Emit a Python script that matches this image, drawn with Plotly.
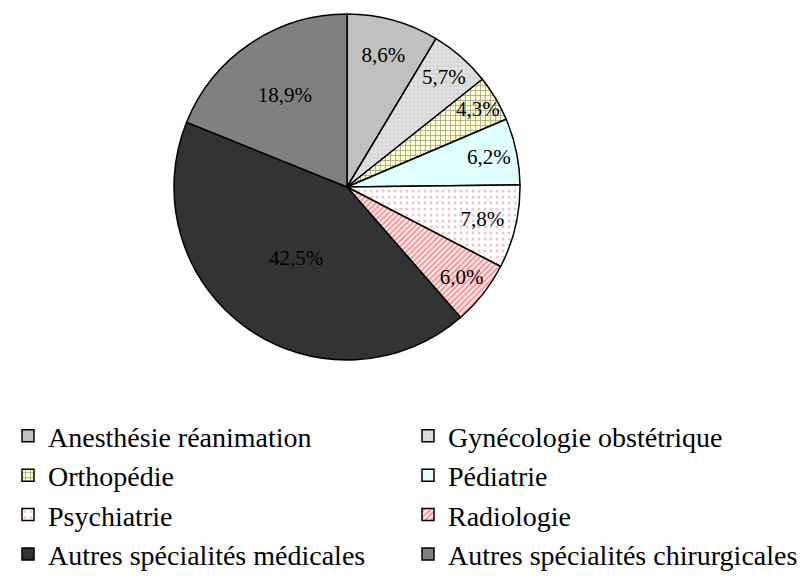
import plotly.graph_objects as go

categories = ["Anesthésie réanimation", "Gynécologie obstétrique", "Orthopédie", "Pédiatrie",
              "Psychiatrie", "Radiologie", "Autres spécialités médicales", "Autres spécialités chirurgicales"]
values = [8.6, 5.7, 4.3, 6.2, 7.8, 6.0, 42.5, 18.9]
labels_txt = ["8,6%", "5,7%", "4,3%", "6,2%", "7,8%", "6,0%", "42,5%", "18,9%"]

colors = ["#C0C0C0", "#E4E4E4", "#FFFFCC", "#E0FFFF", "#FFFFFF", "#FF9999", "#333333", "#808080"]
shapes = ["", "+", "+", "", ".", "/", "", ""]
fg = ["#C0C0C0", "#C8C8C8", "#A0A090", "#E0FFFF", "#EEC4D4", "#FFFFFF", "#333333", "#808080"]
psize = [5, 4, 5, 5, 6, 4, 5, 5]
solid = [0.3, 0.3, 0.3, 0.3, 0.2, 0.4, 0.3, 0.3]

# page body has an 8px default margin
W, H = 801, 580
cx, cy, r = 339, 179, 173

fig = go.Figure(go.Pie(
    labels=categories, values=values, text=labels_txt,
    texttemplate="%{text}", textposition="inside", insidetextorientation="horizontal",
    sort=False, direction="clockwise", rotation=0,
    marker=dict(colors=colors, line=dict(color="black", width=1.5),
                pattern=dict(shape=shapes, fgcolor=fg, bgcolor=colors, size=psize, solidity=solid)),
    textfont=dict(family="Liberation Serif", size=21, color="black"),
    domain=dict(x=[(cx - r) / W, (cx + r) / W], y=[1 - (cy + r) / H, 1 - (cy - r) / H]),
    hoverinfo="label+percent",
))

fig.update_layout(
    width=W, height=H,
    margin=dict(l=0, r=0, t=0, b=0, autoexpand=False),
    paper_bgcolor="white", plot_bgcolor="white",
    font=dict(family="Liberation Serif", color="black"),
    uniformtext=dict(mode="show", minsize=21),
    showlegend=True,
    legend=dict(orientation="h", x=0.0, y=0.305, xanchor="left", yanchor="top",
                entrywidth=355, entrywidthmode="pixels",
                font=dict(family="Liberation Serif", size=28, color="black"),
                bgcolor="rgba(0,0,0,0)"),
)

fig.write_html("out.html")
